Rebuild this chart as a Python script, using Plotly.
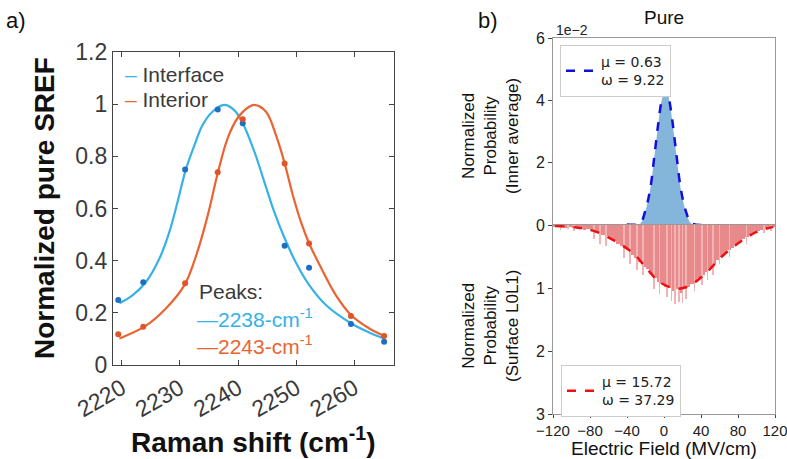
import plotly.graph_objects as go

# ---------------- Panel a data ----------------
pt_x = [2219.4, 2223.7, 2230.9, 2236.5, 2240.8, 2248.0, 2252.2, 2259.4, 2265.1]
interface_pts = [0.249, 0.317, 0.75, 0.98, 0.927, 0.457, 0.373, 0.157, 0.089]
interior_pts = [0.118, 0.147, 0.313, 0.739, 0.942, 0.773, 0.466, 0.188, 0.111]

fit_if_x = [2219.6, 2221.9, 2224.2, 2226.5, 2228.2, 2229.6, 2231.0, 2232.5, 2233.9, 2235.6,
            2237.6, 2239.3, 2240.8, 2242.8, 2244.5, 2246.2, 2248.0, 2250.0, 2252.2, 2255.1,
            2259.4, 2262.5, 2265.1]
fit_if_y = [0.237, 0.268, 0.319, 0.409, 0.511, 0.626, 0.748, 0.843, 0.92, 0.971,
            0.997, 0.978, 0.927, 0.818, 0.703, 0.588, 0.486, 0.39, 0.307, 0.23,
            0.16, 0.125, 0.102]
fit_in_x = [2219.6, 2223.9, 2227.6, 2230.8, 2233.0, 2234.8, 2236.5, 2238.2, 2239.9, 2241.9,
            2242.8, 2244.8, 2246.5, 2248.0, 2249.4, 2250.8, 2252.2, 2254.3, 2256.8, 2259.4,
            2262.5, 2265.1]
fit_in_y = [0.102, 0.147, 0.217, 0.307, 0.434, 0.575, 0.735, 0.869, 0.946, 0.99,
            0.997, 0.971, 0.882, 0.773, 0.652, 0.549, 0.467, 0.371, 0.268, 0.192,
            0.141, 0.112]

a_xticks = [2220, 2230, 2240, 2250, 2260]
a_yticks = [0, 0.2, 0.4, 0.6, 0.8, 1.0, 1.2]
a_yticklabels = ["0", "0.2", "0.4", "0.6", "0.8", "1", "1.2"]

# ---------------- Panel b data ----------------
inner_x = [-40.3, -26.0, -20.5, -15.1, -10.5, -6.2, -2.5, 0.0, 1.8, 3.6, 5.7, 9.4, 13.7, 18.4, 23.8, 29.9, 49.7]
inner_fit = [0.02, 0.05, 0.43, 1.12, 2.19, 3.26, 4.01, 4.27, 4.31, 4.27, 4.01, 3.26, 2.19, 1.12, 0.43, 0.05, 0.02]
inner_hist = [0.0, 0.04, 0.42, 1.10, 2.17, 3.24, 4.0, 4.25, 4.3, 4.25, 4.0, 3.24, 2.17, 1.10, 0.42, 0.04, 0.0]

surf_x = [-117.8, -94.4, -72.8, -51.1, -33.2, -18.7, -4.3, 13.7, 28.1, 46.1, 64.1, 82.1, 100.2, 118.1]
surf_fit = [0.016, 0.04, 0.11, 0.27, 0.45, 0.69, 0.91, 1.01, 0.96, 0.75, 0.48, 0.27, 0.11, 0.03]

surf_bins = list(range(-118, 120, 4))
surf_hist = [0.02, 0.03, 0.02, 0.04, 0.03, 0.05, 0.04, 0.06, 0.08, 0.07,
             0.10, 0.12, 0.11, 0.16, 0.18, 0.22, 0.24, 0.30, 0.33, 0.38,
             0.40, 0.47, 0.52, 0.58, 0.66, 0.70, 0.78, 0.84, 0.90, 0.93,
             0.98, 1.00, 1.05, 1.02, 1.08, 1.00, 0.98, 0.94, 0.90, 0.84,
             0.80, 0.74, 0.68, 0.62, 0.56, 0.50, 0.46, 0.40, 0.36, 0.30,
             0.27, 0.22, 0.19, 0.16, 0.12, 0.10, 0.08, 0.06, 0.04, 0.03]
spike_x = [-112, -104, -97, -76, -69, -63, -43, -37, -29, -23, -11, -5, 3, 8, 12, 16, 20, 24,
           33, 41, 47, 53, 60, 71, 89, 108, 116]
spike_v = [0.08, 0.07, 0.09, 0.22, 0.30, 0.33, 0.52, 0.62, 0.72, 0.80, 1.02, 1.10, 1.15, 1.20,
           1.25, 1.22, 1.24, 1.18, 1.05, 0.95, 0.88, 0.80, 0.62, 0.50, 0.30, 0.12, 0.10]

b_xticks = [-120, -80, -40, 0, 40, 80, 120]
b_xticklabels = ["\u2212120", "\u221280", "\u221240", "0", "40", "80", "120"]

BLUE = "#36b2e6"
ORANGE = "#ea6431"
BLUE_PT = "#1d6fc4"
ORANGE_PT = "#df5527"
W, H = 787, 459


def px(x):
    return x / W


def py(y):
    return 1 - y / H


fig = go.Figure()

# Panel a
fig.add_trace(go.Scatter(x=fit_if_x, y=fit_if_y, mode="lines",
                         line=dict(color=BLUE, width=2.2, shape="spline", smoothing=1.0),
                         showlegend=False, xaxis="x", yaxis="y"))
fig.add_trace(go.Scatter(x=fit_in_x, y=fit_in_y, mode="lines",
                         line=dict(color=ORANGE, width=2.2, shape="spline", smoothing=1.0),
                         showlegend=False, xaxis="x", yaxis="y"))
fig.add_trace(go.Scatter(x=pt_x, y=interface_pts, mode="markers", marker=dict(color=BLUE_PT, size=6),
                         showlegend=False, xaxis="x", yaxis="y"))
fig.add_trace(go.Scatter(x=pt_x, y=interior_pts, mode="markers", marker=dict(color=ORANGE_PT, size=6),
                         showlegend=False, xaxis="x", yaxis="y"))

# Panel b upper
fig.add_trace(go.Scatter(x=inner_x, y=inner_hist, mode="lines", line=dict(width=0, shape="spline"),
                         fill="tozeroy", fillcolor="#84b5db", showlegend=False, xaxis="x2", yaxis="y2"))
fig.add_trace(go.Scatter(x=inner_x, y=inner_fit, mode="lines", name="\u03bc = 0.63<br>\u03c9 = 9.22",
                         line=dict(color="#1010d8", width=2.5, dash="dash", shape="spline"),
                         xaxis="x2", yaxis="y2", legend="legend"))

# Panel b lower
fig.add_trace(go.Bar(x=surf_bins, y=surf_hist, width=4, marker=dict(color="#e88a8c", line=dict(width=0)),
                     showlegend=False, xaxis="x3", yaxis="y3"))
fig.add_trace(go.Bar(x=spike_x, y=spike_v, width=0.7, marker=dict(color="#f2b3b4", line=dict(width=0)),
                     showlegend=False, xaxis="x3", yaxis="y3"))
fig.add_trace(go.Scatter(x=surf_x, y=surf_fit, mode="lines", name="\u03bc = 15.72<br>\u03c9 = 37.29",
                         line=dict(color="#ee1111", width=2.5, dash="dash", shape="spline"),
                         xaxis="x3", yaxis="y3", legend="legend2"))

afont = dict(family="Liberation Sans, Arial", size=23, color="#3a3a3a")
bfont = dict(family="Liberation Sans, Arial", size=16, color="#222")
bxfont = dict(family="Liberation Sans, Arial", size=15, color="#222")

fig.update_layout(
    width=W, height=H, margin=dict(l=0, r=0, t=0, b=0, pad=0, autoexpand=False),
    paper_bgcolor="white", plot_bgcolor="white",
    barmode="overlay", bargap=0,
    xaxis=dict(domain=[px(113), px(394)], range=[2218.5, 2266.8], anchor="y",
               tickvals=a_xticks, tickangle=-30, tickfont=afont, ticks="inside", ticklen=5,
               showline=True, linecolor="#444", linewidth=1.3, mirror="allticks", showgrid=False,
               zeroline=False),
    yaxis=dict(domain=[py(365), py(52)], range=[0, 1.2], anchor="x",
               tickvals=a_yticks, ticktext=a_yticklabels, tickfont=afont, ticks="inside", ticklen=5,
               showline=True, linecolor="#444", linewidth=1.3, mirror="allticks", showgrid=False,
               zeroline=False),
    xaxis2=dict(domain=[px(553), px(775)], range=[-120, 120], anchor="y2", matches="x3",
                showticklabels=False, ticks="", showline=True, linecolor="#999", mirror=True,
                showgrid=False, zeroline=False),
    yaxis2=dict(domain=[py(225), py(38)], range=[0, 6], anchor="x2", tickvals=[0, 2, 4, 6],
                tickfont=bfont, ticks="outside", ticklen=4, tickcolor="#444", showline=True,
                linecolor="#999", mirror=True, showgrid=False, zeroline=False),
    xaxis3=dict(domain=[px(553), px(775)], range=[-120, 120], anchor="y3", tickvals=b_xticks,
                ticktext=b_xticklabels, tickfont=bxfont, ticks="outside", ticklen=3, tickcolor="#444",
                showline=True, linecolor="#999", mirror=True, showgrid=False, zeroline=False,
                ticklabeloverflow="allow"),
    yaxis3=dict(domain=[py(414), py(225)], range=[3, 0], anchor="x3", tickvals=[1, 2, 3],
                tickfont=bfont, ticks="outside", ticklen=4, tickcolor="#444", showline=True,
                linecolor="#999", mirror=True, showgrid=False, zeroline=False),
    legend=dict(x=px(560), y=py(45), xanchor="left", yanchor="top", bgcolor="white",
                bordercolor="#cccccc", borderwidth=1, itemwidth=30,
                font=dict(family="DejaVu Sans", size=14, color="#222")),
    legend2=dict(x=px(561), y=py(365), xanchor="left", yanchor="top", bgcolor="white",
                 bordercolor="#cccccc", borderwidth=1, itemwidth=30,
                 font=dict(family="DejaVu Sans", size=14, color="#222")),
)


def A(x, y, text, size, color="#111", xanchor="left", angle=0, family="Liberation Sans, Arial"):
    return dict(x=px(x), y=py(y), xref="paper", yref="paper", text=text, showarrow=False,
                xanchor=xanchor, yanchor="middle", textangle=angle,
                font=dict(family=family, size=size, color=color))


ann = [
    A(4, 20, "a)", 22),
    A(476, 20, "b)", 22),
    A(44, 208, "<b>Normalized pure SREF</b>", 28, xanchor="center", angle=-90),
    A(253, 440, "<b>Raman shift (cm<sup>-1</sup>)</b>", 28, xanchor="center"),
    A(123, 75, "<span style='color:%s'>\u2013</span> Interface" % BLUE, 21, "#3a3a3a"),
    A(123, 99, "<span style='color:%s'>\u2013</span> Interior" % ORANGE, 21, "#3a3a3a"),
    A(197, 291, "Peaks:", 21, "#3a3a3a"),
    A(195, 318, "\u20142238-cm<sup>-1</sup>", 21, BLUE),
    A(195, 345, "\u20142243-cm<sup>-1</sup>", 21, ORANGE),
    A(664, 18, "Pure", 19, xanchor="center"),
    A(554, 30, "1e\u22122", 14, "#222"),
    A(490, 136, "Normalized<br>Probability<br>(Inner average)", 17, xanchor="center", angle=-90),
    A(490, 326, "Normalized<br>Probability<br>(Surface L0L1)", 17, xanchor="center", angle=-90),
    A(664, 448, "Electric Field (MV/cm)", 19, xanchor="center"),
]
fig.update_layout(annotations=ann)

fig.write_html("out.html")
